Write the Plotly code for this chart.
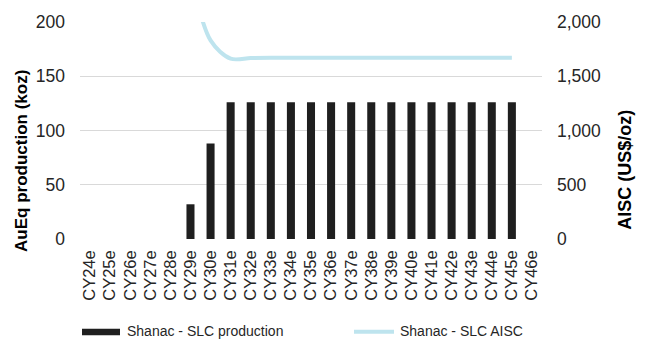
import plotly.graph_objects as go

# Calendar years (estimates)
years = ["CY24e", "CY25e", "CY26e", "CY27e", "CY28e", "CY29e", "CY30e", "CY31e",
         "CY32e", "CY33e", "CY34e", "CY35e", "CY36e", "CY37e", "CY38e", "CY39e",
         "CY40e", "CY41e", "CY42e", "CY43e", "CY44e", "CY45e", "CY46e"]

# Shanac - SLC gold-equivalent production (koz)
production_koz = [0, 0, 0, 0, 0, 32, 88, 126, 126, 126, 126, 126, 126, 126,
                  126, 126, 126, 126, 126, 126, 126, 126, 0]

# Shanac - SLC all-in sustaining cost (US$/oz)
aisc_usd_oz = [None, None, None, None, None, 2450, 1830, 1662, 1668, 1670,
               1670, 1670, 1670, 1670, 1670, 1670, 1670, 1670, 1670, 1670,
               1670, 1670, None]

W, H = 650, 339
L, R, T, B = 80, 108, 16.7, 100
PW, PH = W - L - R, H - T - B

FONT = "Liberation Sans, Arial, sans-serif"
BAR_COLOR = "#1f1f1f"
LINE_COLOR = "#bee4ee"
TEXT_COLOR = "#262626"


def px_x(x):
    return (x - L) / PW


def px_y(y):
    return (H - B - y) / PH


fig = go.Figure()
fig.add_trace(go.Bar(
    x=years, y=production_koz, name="Shanac - SLC production",
    marker=dict(color=BAR_COLOR, line=dict(width=0)),
    showlegend=False,
))
fig.add_trace(go.Scatter(
    x=years, y=aisc_usd_oz, name="Shanac - SLC AISC", yaxis="y2",
    mode="lines",
    line=dict(color=LINE_COLOR, width=4, shape="spline", smoothing=0.9),
    connectgaps=False, showlegend=False,
))

fig.update_layout(
    width=W, height=H,
    margin=dict(l=L, r=R, t=T, b=B),
    plot_bgcolor="white", paper_bgcolor="white",
    bargap=0.6,
    font=dict(family=FONT, size=16, color=TEXT_COLOR),
    xaxis=dict(
        type="category", tickangle=-90, showgrid=False, showline=False,
        zeroline=False, ticks="", tickfont=dict(size=16.5),
        ticklabelstandoff=7,
    ),
    yaxis=dict(
        range=[0, 200], dtick=50, showgrid=True, gridcolor="#d9d9d9",
        gridwidth=1.3, zeroline=False, showline=False, ticks="",
        ticklabelstandoff=14, tickfont=dict(size=17.5),
    ),
    yaxis2=dict(
        range=[0, 2000], dtick=500, overlaying="y", side="right",
        showgrid=False, zeroline=False, showline=False, ticks="",
        tickformat=",", ticklabelstandoff=14, tickfont=dict(size=17.5),
    ),
)

# Axis titles
fig.add_annotation(
    text="<b>AuEq production (koz)</b>", textangle=-90, showarrow=False,
    xref="paper", yref="paper", x=px_x(22), y=px_y(159),
    xanchor="center", yanchor="middle",
    font=dict(size=17, color="#000000", family=FONT),
)
fig.add_annotation(
    text="<b>AISC (US$/oz)</b>", textangle=-90, showarrow=False,
    xref="paper", yref="paper", x=px_x(625), y=px_y(168),
    xanchor="center", yanchor="middle",
    font=dict(size=18, color="#000000", family=FONT),
)

# Legend along the bottom
fig.add_shape(
    type="rect", xref="paper", yref="paper",
    x0=px_x(82), x1=px_x(120), y0=px_y(337.5), y1=px_y(331),
    fillcolor=BAR_COLOR, line=dict(width=0),
)
fig.add_annotation(
    text="Shanac - SLC production", showarrow=False,
    xref="paper", yref="paper", x=px_x(125), y=px_y(333.5),
    xanchor="left", yanchor="middle",
    font=dict(size=14, color=TEXT_COLOR, family=FONT),
)
fig.add_shape(
    type="line", xref="paper", yref="paper",
    x0=px_x(354), x1=px_x(394), y0=px_y(334), y1=px_y(334),
    line=dict(color=LINE_COLOR, width=4),
)
fig.add_annotation(
    text="Shanac - SLC AISC", showarrow=False,
    xref="paper", yref="paper", x=px_x(398), y=px_y(333.5),
    xanchor="left", yanchor="middle",
    font=dict(size=14, color=TEXT_COLOR, family=FONT),
)

fig.write_html("out.html")
